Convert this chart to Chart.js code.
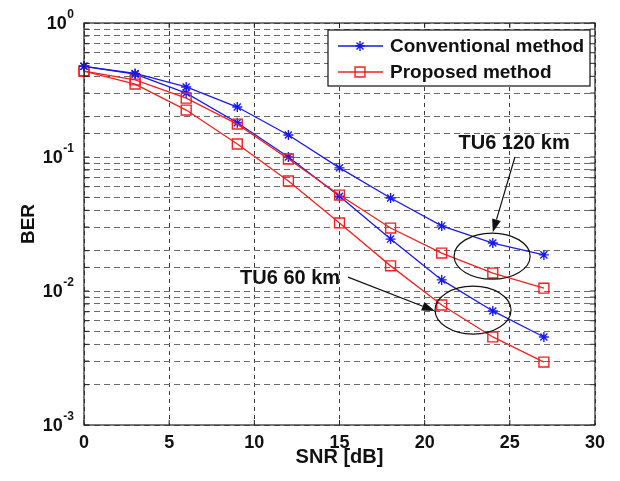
<!DOCTYPE html>
<html>
<head>
<meta charset="utf-8">
<script src="https://cdn.jsdelivr.net/npm/chart.js@4.4.1/dist/chart.umd.min.js"></script>
<style>
  html, body { margin: 0; padding: 0; background: #fff; }
  #wrap { width: 620px; height: 481px; }
</style>
</head>
<body>
<div id="wrap"><canvas id="berChart" width="620" height="481"></canvas></div>
<script>
// SNR points (dB)
var snr = [0, 3, 6, 9, 12, 15, 18, 21, 24, 27];

// BER values
var conv120 = [0.475, 0.42, 0.333, 0.236, 0.146, 0.083, 0.0494, 0.0306, 0.0228, 0.0186];
var prop120 = [0.438, 0.376, 0.275, 0.176, 0.0966, 0.052, 0.0295, 0.0192, 0.0136, 0.0105];
var conv60 = [0.475, 0.415, 0.30, 0.18, 0.10, 0.051, 0.0244, 0.0121, 0.0071, 0.00454];
var prop60 = [0.438, 0.35, 0.224, 0.125, 0.0662, 0.0322, 0.0154, 0.00786, 0.00454, 0.00295];

var xTicks = [0, 5, 10, 15, 20, 25, 30];
var legendNames = ["Conventional method", "Proposed method"];

var blue = "#1a1ae6";
var red = "#ee2222";
var fontFam = "'Liberation Sans', Arial, Helvetica, sans-serif";

function toPoints(ys) {
    return ys.map(function(v, i) { return { x: snr[i], y: v }; });
}

// ellipses + arrows (data coords, ellipse radii in px)
var notes = [
    { text: "TU6 120 km", tx: 25.25, ty: 0.127, from: [25.3, 0.1], to: [24.0, 0.0275], ell: [23.96, 0.0182, 38, 23] },
    { text: "TU6 60 km", tx: 12.1, ty: 0.0125, from: [15.5, 0.0127], to: [20.6, 0.0071], ell: [22.84, 0.0072, 38, 24] }
];

function lineSet(label, data, color, style, r) {
    return {
        label: label,
        data: toPoints(data),
        borderColor: color,
        backgroundColor: "rgba(0,0,0,0)",
        borderWidth: 1.3,
        pointStyle: style,
        pointRadius: r,
        pointHoverRadius: r,
        pointBorderColor: color,
        pointBackgroundColor: "rgba(0,0,0,0)",
        pointBorderWidth: 1.4,
        tension: 0,
        clip: false
    };
}

function decadeExp(value) {
    var e = Math.log10(value);
    return Math.abs(e - Math.round(e)) < 1e-9 ? Math.round(e) : null;
}

// y labels as 10 with a raised exponent
var powLabels = {
    id: "powLabels",
    afterDraw: function(chart) {
        var ctx = chart.ctx, ys = chart.scales.y;
        var right = 74;
        ctx.save();
        ctx.fillStyle = "#111";
        ctx.textBaseline = "middle";
        ctx.textAlign = "right";
        ys.ticks.forEach(function(t) {
            var e = decadeExp(t.value);
            if (e === null) return;
            var y = ys.getPixelForValue(t.value);
            var ex = String(e);
            ctx.font = "bold 12px " + fontFam;
            var w = ctx.measureText(ex).width;
            ctx.fillText(ex, right, y - 8);
            ctx.font = "bold 18px " + fontFam;
            ctx.fillText("10", right - w - 0.5, y + 1);
        });
        ctx.restore();
    }
};

// box around plot + inward ticks
var framePlugin = {
    id: "frame",
    afterDatasetsDraw: function(chart) {
        var ctx = chart.ctx, a = chart.chartArea;
        var xs = chart.scales.x, ys = chart.scales.y;
        ctx.save();
        ctx.strokeStyle = "#222";
        ctx.lineWidth = 1.2;
        ctx.setLineDash([]);
        ctx.strokeRect(a.left, a.top, a.right - a.left, a.bottom - a.top);
        ctx.lineWidth = 1;
        ctx.beginPath();
        ys.ticks.forEach(function(t) {
            var y = ys.getPixelForValue(t.value);
            ctx.moveTo(a.left, y); ctx.lineTo(a.left + 5, y);
            ctx.moveTo(a.right, y); ctx.lineTo(a.right - 5, y);
        });
        xs.ticks.forEach(function(t) {
            var x = xs.getPixelForValue(t.value);
            ctx.moveTo(x, a.top); ctx.lineTo(x, a.top + 5);
            ctx.moveTo(x, a.bottom); ctx.lineTo(x, a.bottom - 5);
        });
        ctx.stroke();
        ctx.restore();
    }
};

var notePlugin = {
    id: "notes",
    afterDatasetsDraw: function(chart) {
        var ctx = chart.ctx, xs = chart.scales.x, ys = chart.scales.y;
        ctx.save();
        ctx.strokeStyle = "#111";
        ctx.fillStyle = "#111";
        ctx.lineWidth = 1.2;
        notes.forEach(function(n) {
            var ex = xs.getPixelForValue(n.ell[0]), ey = ys.getPixelForValue(n.ell[1]);
            ctx.beginPath();
            ctx.ellipse(ex, ey, n.ell[2], n.ell[3], 0, 0, Math.PI * 2);
            ctx.stroke();

            var x0 = xs.getPixelForValue(n.from[0]), y0 = ys.getPixelForValue(n.from[1]);
            var x1 = xs.getPixelForValue(n.to[0]), y1 = ys.getPixelForValue(n.to[1]);
            var ang = Math.atan2(y1 - y0, x1 - x0);
            var hl = 13, hw = 4.5;
            ctx.beginPath();
            ctx.moveTo(x0, y0);
            ctx.lineTo(x1 - hl * Math.cos(ang), y1 - hl * Math.sin(ang));
            ctx.stroke();
            ctx.beginPath();
            ctx.moveTo(x1, y1);
            ctx.lineTo(x1 - hl * Math.cos(ang) + hw * Math.sin(ang), y1 - hl * Math.sin(ang) - hw * Math.cos(ang));
            ctx.lineTo(x1 - hl * Math.cos(ang) - hw * Math.sin(ang), y1 - hl * Math.sin(ang) + hw * Math.cos(ang));
            ctx.closePath();
            ctx.fill();

            ctx.font = "bold 20px " + fontFam;
            ctx.textAlign = "center";
            ctx.textBaseline = "middle";
            ctx.fillText(n.text, xs.getPixelForValue(n.tx), ys.getPixelForValue(n.ty));
        });
        ctx.restore();
    }
};

// legend inside the axes, top right
var boxLegend = {
    id: "boxLegend",
    afterDatasetsDraw: function(chart) {
        var ctx = chart.ctx, a = chart.chartArea;
        var w = 262, h = 56;
        var left = a.right - 5 - w, top = a.top + 7;
        ctx.save();
        ctx.fillStyle = "#fff";
        ctx.fillRect(left, top, w, h);
        ctx.strokeStyle = "#111";
        ctx.lineWidth = 1.2;
        ctx.strokeRect(left, top, w, h);
        legendNames.forEach(function(name, i) {
            var ds = chart.data.datasets[i];
            var y = top + 16 + i * 26;
            ctx.strokeStyle = ds.borderColor;
            ctx.lineWidth = 1.3;
            ctx.beginPath();
            ctx.moveTo(left + 10, y);
            ctx.lineTo(left + 55, y);
            ctx.stroke();
            ctx.fillStyle = "rgba(0,0,0,0)";
            ctx.lineWidth = 1.4;
            Chart.helpers.drawPoint(ctx, {
                pointStyle: ds.pointStyle, radius: ds.pointRadius, rotation: 0, borderWidth: 1.4
            }, left + 32, y);
            ctx.fillStyle = "#111";
            ctx.font = "bold 19px " + fontFam;
            ctx.textAlign = "left";
            ctx.textBaseline = "middle";
            ctx.fillText(name, left + 62, y + 1);
        });
        ctx.restore();
    }
};

new Chart(document.getElementById("berChart"), {
    type: "line",
    data: {
        datasets: [
            lineSet(legendNames[0], conv120, blue, "star", 5),
            lineSet(legendNames[1], prop120, red, "rect", 7),
            lineSet(legendNames[0], conv60, blue, "star", 5),
            lineSet(legendNames[1], prop60, red, "rect", 7)
        ]
    },
    options: {
        responsive: false,
        animation: false,
        events: [],
        layout: { padding: { top: 23, right: 25, left: 0, bottom: 0 } },
        plugins: {
            legend: { display: false },
            tooltip: { enabled: false }
        },
        scales: {
            x: {
                type: "linear",
                min: 0,
                max: 30,
                afterBuildTicks: function(scale) {
                    scale.ticks = xTicks.map(function(v) { return { value: v }; });
                },
                afterFit: function(scale) { scale.height = 56; },
                grid: { color: "#3a3a3a", lineWidth: 1, drawTicks: false },
                border: { display: false, dash: [4, 4] },
                ticks: {
                    padding: 7,
                    color: "#111",
                    font: { family: fontFam, size: 18, weight: "bold" }
                },
                title: {
                    display: true,
                    text: "SNR [dB]",
                    color: "#111",
                    font: { family: fontFam, size: 20, weight: "bold" },
                    padding: { top: 0, bottom: 12 }
                }
            },
            y: {
                type: "logarithmic",
                min: 0.001,
                max: 1,
                afterFit: function(scale) { scale.width = 84; },
                grid: { color: "#6a6a6a", lineWidth: 1, drawTicks: false },
                border: { display: false, dash: [6, 4] },
                ticks: {
                    autoSkip: false,
                    display: false
                },
                title: {
                    display: true,
                    text: "BER",
                    color: "#111",
                    font: { family: fontFam, size: 19, weight: "bold" },
                    padding: { top: 17, bottom: 0 }
                }
            }
        }
    },
    plugins: [framePlugin, notePlugin, boxLegend, powLabels]
});
</script>
</body>
</html>
